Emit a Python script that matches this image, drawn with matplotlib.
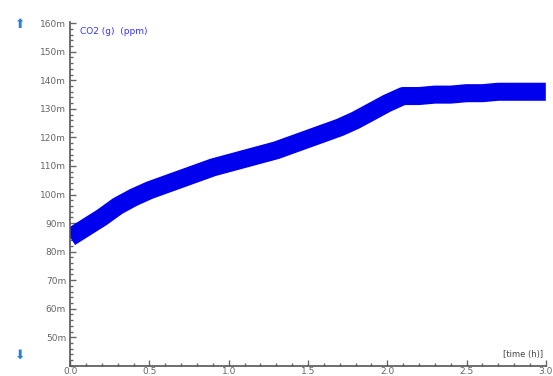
import matplotlib.pyplot as plt
from matplotlib.ticker import MultipleLocator, FuncFormatter

# CO2 trace (time in h, CO2 in ppm*1e-3 labelled "m")
time_h = [0.0, 0.1, 0.2, 0.3, 0.4, 0.5, 0.6, 0.7, 0.8, 0.9, 1.0,
          1.1, 1.2, 1.3, 1.4, 1.5, 1.6, 1.7, 1.8, 1.9, 2.0,
          2.1, 2.2, 2.3, 2.4, 2.5, 2.6, 2.7, 2.8, 2.9, 3.0]
co2 = [85, 88.5, 92, 96, 99, 101.5, 103.5, 105.5, 107.5, 109.5, 111,
       112.5, 114, 115.5, 117.5, 119.5, 121.5, 123.5, 126, 129, 132,
       134.5, 134.5, 135, 135, 135.5, 135.5, 136, 136, 136, 136]
y_ticks = [50, 60, 70, 80, 90, 100, 110, 120, 130, 140, 150, 160]
x_ticks = [0.0, 0.5, 1.0, 1.5, 2.0, 2.5, 3.0]

fig = plt.figure(figsize=(5.53, 3.76), dpi=100)
ax = fig.add_axes([0.127, 0.027, 0.86, 0.915])

ax.plot(time_h, co2, color="#0000ee", linewidth=13, solid_capstyle="butt")

ax.set_xlim(0, 3.0)
ax.set_ylim(40, 160.5)
ax.set_xticks(x_ticks)
ax.set_yticks(y_ticks)
ax.xaxis.set_minor_locator(MultipleLocator(0.1))
ax.yaxis.set_minor_locator(MultipleLocator(2))
ax.yaxis.set_major_formatter(FuncFormatter(lambda v, p: f"{v:.0f}m"))
ax.xaxis.set_major_formatter(FuncFormatter(lambda v, p: f"{v:.1f}"))
ax.tick_params(axis="both", labelsize=6.5, colors="#666666", direction="in",
               length=4, width=1)
ax.tick_params(axis="both", which="minor", direction="in", length=2.5,
               width=1, colors="#666666")
ax.tick_params(axis="x", pad=1)
ax.tick_params(axis="y", pad=3)

for side in ["top", "right"]:
    ax.spines[side].set_visible(False)
for side in ["left", "bottom"]:
    ax.spines[side].set_color("#555555")
    ax.spines[side].set_linewidth(1.2)

ax.text(0.02, 0.985, "CO2 (g)  (ppm)", transform=ax.transAxes, color="#3333ff",
        fontsize=6.5, va="top", ha="left")
ax.text(0.995, 0.02, "[time (h)]", transform=ax.transAxes, color="#444444",
        fontsize=6, va="bottom", ha="right")

# scroll arrows on the left
fig.text(0.036, 0.935, "\u2B06", color="#2a7fd4", fontsize=9, ha="center", va="center")
fig.text(0.036, 0.055, "\u2B07", color="#2a7fd4", fontsize=9, ha="center", va="center")

fig.savefig("out.png", dpi=100)
